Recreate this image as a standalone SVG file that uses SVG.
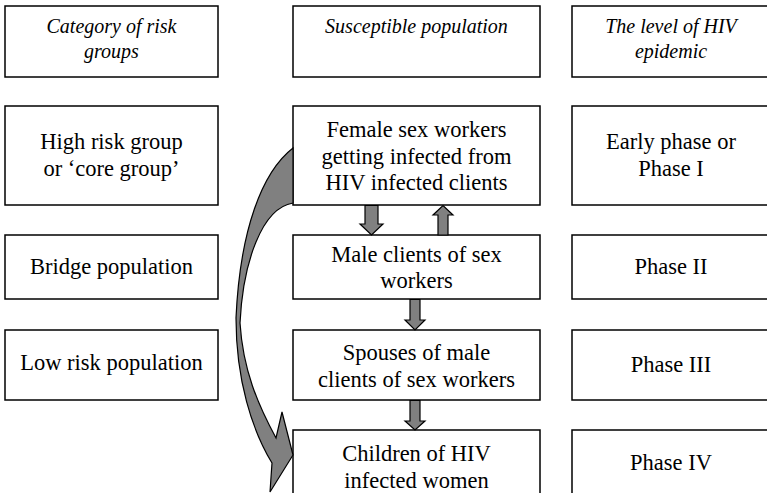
<svg xmlns="http://www.w3.org/2000/svg" width="767" height="493" viewBox="0 0 767 493">
<style>
.box{fill:#fff;stroke:#000;stroke-width:1.5}
.t{font-family:'Liberation Serif',serif;font-size:22.5px;fill:#000;text-anchor:middle}
.h{font-family:'Liberation Serif',serif;font-size:20px;font-style:italic;fill:#000;text-anchor:middle}
.ar{fill:#808080;stroke:#000;stroke-width:1.2;stroke-linejoin:miter}
</style>
<rect width="767" height="493" fill="#fff"/>
<g id="hdr-category"><rect class="box" x="5" y="6" width="213" height="71"/><text class="h" x="111.5" y="33">Category of  risk</text><text class="h" x="111.5" y="58">groups</text></g>
<g id="hdr-susceptible"><rect class="box" x="293" y="6" width="247" height="71"/><text class="h" x="416.5" y="33">Susceptible population</text></g>
<g id="hdr-level"><rect class="box" x="572" y="6" width="200" height="71"/><text class="h" x="671" y="33">The level of  HIV</text><text class="h" x="671" y="58">epidemic</text></g>

<g id="high-risk"><rect class="box" x="5" y="106" width="213" height="99"/><text class="t" x="111.5" y="149">High risk group</text><text class="t" x="111.5" y="176">or ‘core group’</text></g>
<g id="bridge"><rect class="box" x="5" y="235" width="213" height="64"/><text class="t" x="111.5" y="274">Bridge population</text></g>
<g id="low-risk"><rect class="box" x="5" y="330" width="213" height="70"/><text class="t" x="111.5" y="370">Low risk population</text></g>

<g id="fsw"><rect class="box" x="293" y="106" width="247" height="99"/><text class="t" x="416.5" y="137">Female sex workers</text><text class="t" x="416.5" y="164">getting infected from</text><text class="t" x="416.5" y="190">HIV infected clients</text></g>
<g id="male-clients"><rect class="box" x="293" y="235" width="247" height="64"/><text class="t" x="416.5" y="262">Male clients of  sex</text><text class="t" x="416.5" y="288">workers</text></g>
<g id="spouses"><rect class="box" x="293" y="330" width="247" height="70"/><text class="t" x="416.5" y="360">Spouses of  male</text><text class="t" x="416.5" y="387">clients of  sex workers</text></g>
<g id="children"><rect class="box" x="293" y="430" width="247" height="80"/><text class="t" x="416.5" y="461">Children of  HIV</text><text class="t" x="416.5" y="488">infected women</text></g>

<g id="phase1"><rect class="box" x="572" y="106" width="200" height="99"/><text class="t" x="671" y="149">Early phase or</text><text class="t" x="671" y="176">Phase I</text></g>
<g id="phase2"><rect class="box" x="572" y="235" width="200" height="64"/><text class="t" x="671" y="274">Phase II</text></g>
<g id="phase3"><rect class="box" x="572" y="330" width="200" height="70"/><text class="t" x="671" y="372">Phase III</text></g>
<g id="phase4"><rect class="box" x="572" y="430" width="200" height="80"/><text class="t" x="671" y="470">Phase IV</text></g>

<g id="connectors">
<path class="ar" d="M365,205.5 H378 V224 H383 L371.5,235 L360,224 H365 Z"/>
<path class="ar" d="M438,235 V215 H433 L443,205.5 L453,215 H448 V235 Z"/>
<path class="ar" d="M410,299.5 H420 V320 H425 L415,330 L405,320 H410 Z"/>
<path class="ar" d="M410,400.5 H420 V421 H425 L415,430 L405,421 H410 Z"/>
<path class="ar" d="M293,148 C262,172 240,230 236,318 C236,380 252,430 272,463 L270,492 L293,455 L282,412 L276,438 C258,405 243,370 240,323 C243,262 262,208 293,203 Z"/>
</g>
</svg>
